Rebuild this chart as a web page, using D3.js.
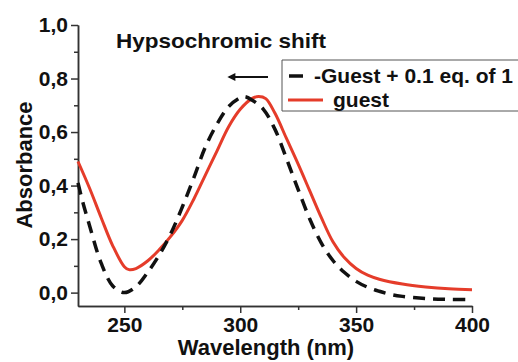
<!DOCTYPE html>
<html>
<head>
<meta charset="utf-8">
<script src="https://cdn.jsdelivr.net/npm/d3@7"></script>
<style>
  body { margin: 0; background: #fff; overflow: hidden; }
  svg { display: block; }
  .axis path, .axis line { stroke: #333; stroke-width: 1.5; }
</style>
</head>
<body>
<svg></svg>
<script>
// data
const wavelengthsGuest = [230, 235, 240, 245, 250, 252, 255, 260, 265, 270, 275, 280, 285, 290, 295, 300, 305, 308, 311, 315, 320, 325, 330, 335, 340, 345, 350, 355, 360, 370, 380, 390, 400];
const absGuest =         [0.49, 0.39, 0.28, 0.175, 0.097, 0.086, 0.09, 0.118, 0.16, 0.21, 0.27, 0.35, 0.44, 0.53, 0.62, 0.685, 0.725, 0.733, 0.725, 0.67, 0.575, 0.48, 0.38, 0.28, 0.19, 0.13, 0.09, 0.065, 0.05, 0.032, 0.021, 0.014, 0.011];

const wavelengthsComplex = [230, 232, 235, 240, 245, 250, 255, 260, 265, 270, 275, 280, 285, 290, 295, 300, 302, 305, 310, 315, 320, 325, 330, 335, 340, 345, 350, 355, 360, 365, 370, 380, 390, 400];
const absComplex =         [0.41, 0.34, 0.25, 0.11, 0.025, 0.0, 0.022, 0.075, 0.14, 0.22, 0.32, 0.43, 0.545, 0.63, 0.695, 0.728, 0.732, 0.72, 0.685, 0.61, 0.5, 0.385, 0.275, 0.185, 0.12, 0.075, 0.042, 0.02, 0.005, -0.007, -0.014, -0.022, -0.025, -0.026];

const xMajorTicks = [250, 300, 350, 400];
const xMinorTicks = [275, 325, 375];
const yMajorTicks = [0, 0.2, 0.4, 0.6, 0.8, 1.0];
const yMinorTicks = [0.1, 0.3, 0.5, 0.7, 0.9];

const legendLabels = ["-Guest + 0.1 eq. of 1", "guest"];

const width = 518;
const height = 362;
const margin = { top: 25, right: 46, bottom: 56, left: 78 };
const innerWidth = width - margin.left - margin.right;
const innerHeight = height - margin.top - margin.bottom;
const font = "Liberation Sans, Arial, sans-serif";

const xScale = d3.scaleLinear().domain([230, 400]).range([0, innerWidth]);
const yScale = d3.scaleLinear().domain([-0.05, 1.0]).range([innerHeight, 0]);

const fmt = d => d3.format(".1f")(d).replace(".", ",");

const svg = d3.select("svg")
    .attr("width", width)
    .attr("height", height)
    .attr("font-family", font);

const g = svg.append("g")
    .attr("transform", `translate(${margin.left},${margin.top})`);

// minor ticks first (no labels), then the major axes on top
g.append("g")
    .attr("class", "axis")
    .attr("transform", `translate(0,${innerHeight})`)
    .call(d3.axisBottom(xScale).tickValues(xMinorTicks).tickSize(4).tickSizeOuter(0))
    .call(a => a.selectAll("text").remove());

g.append("g")
    .attr("class", "axis")
    .call(d3.axisLeft(yScale).tickValues(yMinorTicks).tickSize(4).tickSizeOuter(0))
    .call(a => a.selectAll("text").remove());

function styleLabels(a) {
    a.attr("font-size", 21).attr("font-family", font).attr("font-weight", "bold");
    a.selectAll("text").attr("fill", "#111");
}

g.append("g")
    .attr("class", "axis")
    .attr("transform", `translate(0,${innerHeight})`)
    .call(d3.axisBottom(xScale).tickValues(xMajorTicks).tickSize(7).tickSizeOuter(0).tickPadding(4).tickFormat(d3.format("d")))
    .call(styleLabels);

g.append("g")
    .attr("class", "axis")
    .call(d3.axisLeft(yScale).tickValues(yMajorTicks).tickSize(7).tickSizeOuter(0).tickPadding(3).tickFormat(fmt))
    .call(styleLabels);

// curves
const line = d3.line()
    .x(d => xScale(d[0]))
    .y(d => yScale(d[1]))
    .curve(d3.curveCatmullRom.alpha(0.5));

g.append("path")
    .datum(wavelengthsGuest.map((w, i) => [w, absGuest[i]]))
    .attr("fill", "none")
    .attr("stroke", "#e53c2a")
    .attr("stroke-width", 3)
    .attr("d", line);

g.append("path")
    .datum(wavelengthsComplex.map((w, i) => [w, absComplex[i]]))
    .attr("fill", "none")
    .attr("stroke", "#111")
    .attr("stroke-width", 3.5)
    .attr("stroke-dasharray", "12,8")
    .attr("d", line);

// axis titles
svg.append("text")
    .attr("x", 266)
    .attr("y", 355)
    .attr("text-anchor", "middle")
    .attr("font-size", 22)
    .attr("font-weight", "bold")
    .attr("fill", "#111")
    .text("Wavelength (nm)");

svg.append("text")
    .attr("transform", "translate(32,165) rotate(-90)")
    .attr("text-anchor", "middle")
    .attr("font-size", 22)
    .attr("font-weight", "bold")
    .attr("fill", "#111")
    .text("Absorbance");

// annotation
svg.append("text")
    .attr("x", 116)
    .attr("y", 48)
    .attr("font-size", 21)
    .attr("font-weight", "bold")
    .attr("fill", "#111")
    .attr("textLength", 210)
    .attr("lengthAdjust", "spacingAndGlyphs")
    .text("Hypsochromic shift");

svg.append("defs").append("marker")
    .attr("id", "arrowhead")
    .attr("viewBox", "0 0 10 10")
    .attr("refX", 8)
    .attr("refY", 5)
    .attr("markerWidth", 4.5)
    .attr("markerHeight", 4)
    .attr("orient", "auto")
    .append("path")
    .attr("d", "M0,0 L10,5 L0,10 Z")
    .attr("fill", "#111");

svg.append("line")
    .attr("x1", 268).attr("y1", 77)
    .attr("x2", 229).attr("y2", 77)
    .attr("stroke", "#111")
    .attr("stroke-width", 2)
    .attr("marker-end", "url(#arrowhead)");

// legend (box runs to the right edge, as in the picture)
const legend = svg.append("g").attr("transform", "translate(282,60)");

legend.append("path")
    .attr("d", `M${width - 282},0 H0 V51 H${width - 282}`)
    .attr("fill", "#fff")
    .attr("stroke", "#555")
    .attr("stroke-width", 1);

legend.append("line")
    .attr("x1", 7).attr("x2", 21)
    .attr("y1", 16).attr("y2", 16)
    .attr("stroke", "#111")
    .attr("stroke-width", 3.5);

legend.append("line")
    .attr("x1", 6).attr("x2", 41)
    .attr("y1", 40).attr("y2", 40)
    .attr("stroke", "#e53c2a")
    .attr("stroke-width", 3);

legend.selectAll("text.lab")
    .data(legendLabels)
    .enter()
    .append("text")
    .attr("class", "lab")
    .attr("x", (d, i) => i === 0 ? 32 : 51)
    .attr("y", (d, i) => i === 0 ? 23 : 47)
    .attr("font-size", 21)
    .attr("font-weight", "bold")
    .attr("fill", "#111")
    .text(d => d);
</script>
</body>
</html>
